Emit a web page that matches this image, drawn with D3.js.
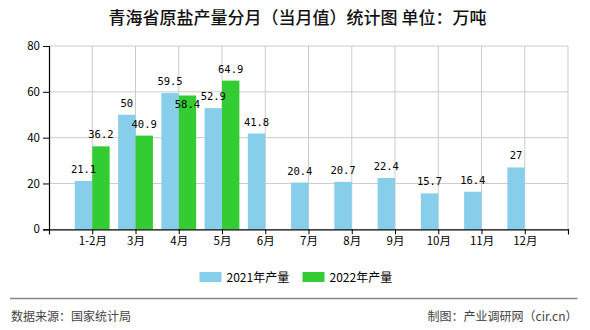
<!DOCTYPE html>
<html><head><meta charset="utf-8">
<script src="https://cdn.jsdelivr.net/npm/d3@7"></script>
<style>body{margin:0;background:#fff}svg{display:block}</style>
</head><body>
<script>
const categories = ["1-2月","3月","4月","5月","6月","7月","8月","9月","10月","11月","12月"];
const values2021 = [21.1, 50, 59.5, 52.9, 41.8, 20.4, 20.7, 22.4, 15.7, 16.4, 27];
const values2022 = [36.2, 40.9, 58.4, 64.9, null, null, null, null, null, null, null];
const seriesNames = ["2021年产量", "2022年产量"];
const yTicks = [0, 20, 40, 60, 80];
const titleText = "青海省原盐产量分月（当月值）统计图 单位：万吨";
const sourceText = "数据来源：国家统计局";
const creditText = "制图：产业调研网（cir.cn）";

(function () {
const W = 590, H = 330;
const colors = ["#87CEEB", "#33CC33"];
const svg = d3.select("body").append("svg").attr("width", W).attr("height", H);
const cjk = "'Noto Sans CJK SC', 'Noto Sans', sans-serif";
const mono = "'DejaVu Sans Mono', monospace";

svg.append("text").attr("x", 297.5).attr("y", 24).attr("text-anchor", "middle")
  .attr("font-family", cjk).attr("font-size", 17).attr("font-weight", 500).attr("fill", "#111").text(titleText);

const pLeft = 49, pRight = 568, pTop = 46, pBottom = 229.3;
const domain = ["__s", ...categories, "__e"];
const x = d3.scalePoint().domain(domain).range([pLeft, pRight]);
const y = d3.scaleLinear().domain([0, 80]).range([pBottom, pTop]);
const bw = 17.4;

// grid
const g = svg.append("g");
g.selectAll(".hg").data(yTicks.filter(d => d > 0)).join("line")
  .attr("x1", pLeft).attr("x2", pRight).attr("y1", d => y(d)).attr("y2", d => y(d))
  .attr("stroke", "#cccccc").attr("stroke-width", 1);
g.selectAll(".vg").data(domain.slice(1)).join("line")
  .attr("x1", d => x(d)).attr("x2", d => x(d)).attr("y1", pTop).attr("y2", pBottom)
  .attr("stroke", "#cccccc").attr("stroke-width", 1);

// bars
const bars = svg.append("g");
categories.forEach((c, i) => {
  const v1 = values2021[i], v2 = values2022[i];
  if (v1 != null) bars.append("rect").attr("x", x(c) - bw).attr("width", bw)
    .attr("y", y(v1)).attr("height", y(0) - y(v1)).attr("fill", colors[0]);
  if (v2 != null) bars.append("rect").attr("x", x(c)).attr("width", bw)
    .attr("y", y(v2)).attr("height", y(0) - y(v2)).attr("fill", colors[1]);
});

// labels
const lab = svg.append("g").attr("font-family", mono).attr("font-size", 10.5).attr("fill", "#000").attr("text-anchor", "middle");
categories.forEach((c, i) => {
  const v1 = values2021[i], v2 = values2022[i];
  if (v1 != null) lab.append("text").attr("x", x(c) - bw / 2).attr("y", y(v1) - 8).text(v1);
  if (v2 != null) {
    const inside = v2 < v1 && v1 - v2 < 3;
    lab.append("text").attr("x", x(c) + bw / 2).attr("y", inside ? y(v2) + 13 : y(v2) - 8).text(v2);
  }
});

// axes
const yAxis = svg.append("g").attr("transform", `translate(${pLeft},0)`)
  .call(d3.axisLeft(y).tickValues(yTicks).tickSize(6).tickPadding(3));
const xAxis = svg.append("g").attr("transform", `translate(0,${pBottom})`)
  .call(d3.axisBottom(x).tickSize(5).tickPadding(3).tickFormat(d => d.startsWith("__") ? "" : d));
[yAxis, xAxis].forEach(a => {
  a.select(".domain").attr("stroke", "#000").attr("stroke-width", 1.2);
  a.selectAll(".tick line").attr("stroke", "#000");
  a.selectAll("text").attr("font-family", cjk).attr("font-size", 11.5).attr("fill", "#000");
});

// legend
const lg = svg.append("g").attr("font-family", cjk).attr("font-size", 12);
[[199.5, 0], [302.5, 1]].forEach(([lx, k]) => {
  lg.append("rect").attr("x", lx).attr("y", 272).attr("width", 22).attr("height", 10).attr("fill", colors[k]);
  lg.append("text").attr("x", lx + 27).attr("y", 282).attr("fill", "#000").text(seriesNames[k]);
});

// footer
svg.append("line").attr("x1", 10).attr("x2", 577.5).attr("y1", 298.5).attr("y2", 298.5)
  .attr("stroke", "#888").attr("stroke-width", 1.5);
svg.append("text").attr("x", 11).attr("y", 321).attr("font-family", cjk).attr("font-size", 12).attr("fill", "#444").text(sourceText);
svg.append("text").attr("x", 577.5).attr("y", 321).attr("text-anchor", "end").attr("font-family", cjk).attr("font-size", 12).attr("fill", "#444").text(creditText);
})();
</script>
</body></html>
